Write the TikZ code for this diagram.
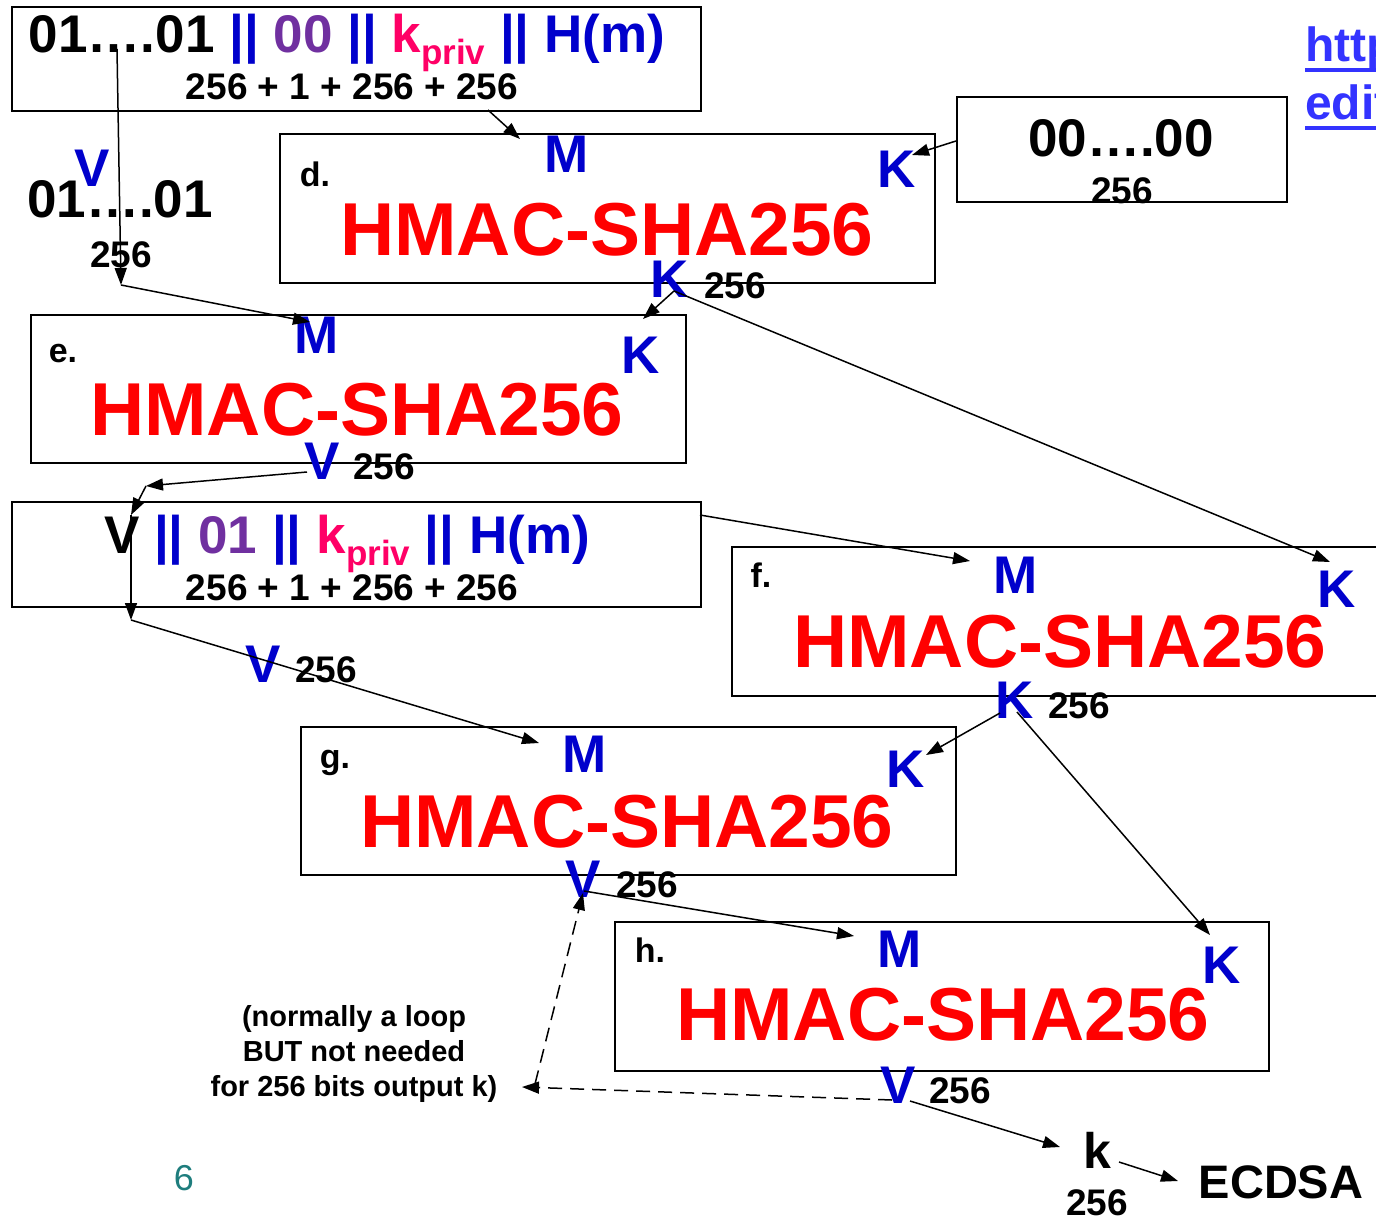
\documentclass[tikz,border=0pt]{standalone}
\usepackage{fontspec}
\setmainfont{Liberation Sans}
\usepackage{xcolor}
\usetikzlibrary{arrows.meta, positioning, calc}

\definecolor{hmacred}{RGB}{255,0,0}
\definecolor{portblue}{RGB}{0,0,204}
\definecolor{bitpurple}{RGB}{112,48,160}
\definecolor{privpink}{RGB}{255,0,102}
\definecolor{linkblue}{RGB}{51,51,255}
\definecolor{pageteal}{RGB}{30,125,125}

\newcommand{\bsz}[1]{\fontsize{#1}{#1}\selectfont\bfseries}
\newcommand{\kpriv}{\textcolor{privpink}{k\raisebox{-12pt}{\bsz{35}priv}}}
\newcommand{\bars}{\textcolor{portblue}{||}}

\begin{document}
\begin{tikzpicture}[x=1pt, y=-1pt,
    box/.style 2 args={draw, line width=1.8pt, anchor=north west, inner sep=0pt, minimum width=#1, minimum height=#2},
    hmac/.style={anchor=base, inner sep=0pt, text=hmacred, font=\bsz{75}},
    port/.style={anchor=base, inner sep=0pt, text=portblue, font=\bsz{53}},
    seq/.style={anchor=base, inner sep=0pt, font=\bsz{53}},
    bits/.style={anchor=base, inner sep=0pt, font=\bsz{37}},
    tag/.style={anchor=base, inner sep=0pt, font=\bsz{34}},
    flow/.style={line width=1.5pt, -{Triangle[length=17pt, width=12pt]}},
    dashflow/.style={flow, dash pattern=on 14pt off 8pt},
]
    \useasboundingbox (0,0) rectangle (1376,1217);

    % Input string 01...01 || 00 || kpriv || H(m)
    \node[box={689pt}{104pt}] (inA) at (11,6) {};
    \node[seq] (inAtxt) at (347,53) {01….01 \bars{} \textcolor{bitpurple}{00} \bars{} \kpriv{} \bars{} \textcolor{portblue}{H(m)}};
    \node[bits] (inAbits) at (352,100) {256 + 1 + 256 + 256};

    % Key 00...00
    \node[box={330pt}{105pt}] (keyZ) at (956,96) {};
    \node[seq] (keyZtxt) at (1121,157) {00….00};
    \node[bits] (keyZbits) at (1122,204) {256};

    % Link (cut off at the edge)
    \node[anchor=base west, inner sep=0pt, text=linkblue, font=\bsz{48}] (url1) at (1305,62) {http};
    \node[anchor=base west, inner sep=0pt, text=linkblue, font=\bsz{48}] (url2) at (1305,120) {edit};
    \draw[linkblue, line width=3.5pt] (url1.base west) ++(0,8) -- ++(80,0);
    \draw[linkblue, line width=3.5pt] (url2.base west) ++(0,8) -- ++(80,0);

    % Initial V = 01...01
    \node[port] (seedV) at (92,187) {V};
    \node[seq] (seedtxt) at (120,218) {01….01};
    \node[bits] (seedbits) at (121,267) {256};

    % d. HMAC with K = 00...00
    \node[box={655pt}{149pt}] (hd) at (279,133) {};
    \node[tag] (hdlbl) at (315,187) {d.};
    \node[port] (hdM) at (567,173) {M};
    \node[port] (hdK) at (897,188) {K};
    \node[hmac] (hdname) at (607,255) {HMAC-SHA256};
    \node[port] (hdout) at (670,297) {K};
    \node[bits] (hdbits) at (735,298) {256};

    % e. HMAC on V
    \node[box={655pt}{148pt}] (he) at (30,314) {};
    \node[tag] (helbl) at (63,362) {e.};
    \node[port] (heM) at (317,353) {M};
    \node[port] (heK) at (641,373) {K};
    \node[hmac] (hename) at (357,435) {HMAC-SHA256};
    \node[port] (heout) at (322,479) {V};
    \node[bits] (hebits) at (384,479) {256};

    % Second string V || 01 || kpriv || H(m)
    \node[box={689pt}{105pt}] (inB) at (11,501) {};
    \node[seq] (inBtxt) at (347,553) {V \bars{} \textcolor{bitpurple}{01} \bars{} \kpriv{} \bars{} \textcolor{portblue}{H(m)}};
    \node[bits] (inBbits) at (352,600) {256 + 1 + 256 + 256};
    \node[port] (inBV) at (263,682) {V};
    \node[bits] (inBVbits) at (326,682) {256};

    % f. HMAC with new K
    \node[box={700pt}{149pt}] (hf) at (731,546) {};
    \node[tag] (hflbl) at (761,587) {f.};
    \node[port] (hfM) at (1016,593) {M};
    \node[port] (hfK) at (1337,607) {K};
    \node[hmac] (hfname) at (1060,667) {HMAC-SHA256};
    \node[port] (hfout) at (1015,718) {K};
    \node[bits] (hfbits) at (1079,718) {256};

    % g. HMAC on V
    \node[box={655pt}{148pt}] (hg) at (300,726) {};
    \node[tag] (hglbl) at (335,768) {g.};
    \node[port] (hgM) at (585,772) {M};
    \node[port] (hgK) at (906,787) {K};
    \node[hmac] (hgname) at (627,847) {HMAC-SHA256};
    \node[port] (hgout) at (583,897) {V};
    \node[bits] (hgbits) at (647,897) {256};

    % h. HMAC on V
    \node[box={654pt}{149pt}] (hh) at (614,921) {};
    \node[tag] (hhlbl) at (650,962) {h.};
    \node[port] (hhM) at (900,967) {M};
    \node[port] (hhK) at (1222,983) {K};
    \node[hmac] (hhname) at (943,1040) {HMAC-SHA256};
    \node[port] (hhout) at (898,1103) {V};
    \node[bits] (hhbits) at (960,1103) {256};

    % Output k
    \node[anchor=base, inner sep=0pt, font=\bsz{50}] (kout) at (1097,1168) {k};
    \node[bits] (kbits) at (1097,1215) {256};
    \node[anchor=base, inner sep=0pt, font=\bsz{47}] (ecdsa) at (1281,1198) {ECDSA};

    % Note on the loop
    \node[inner sep=0pt, align=center, font=\fontsize{29}{35}\selectfont\bfseries] (note) at (354,1054) {(normally a loop\\BUT not needed\\for 256 bits output k)};
    \node[anchor=base, inner sep=0pt, text=pageteal, font=\fontsize{36}{36}\selectfont] (pagenum) at (184,1190) {6};

    % Connector points
    \coordinate (seedtap) at (117,49);
    \coordinate (seedturn) at (121,285);
    \coordinate (heMin) at (310,322);
    \coordinate (inAtap) at (488,110);
    \coordinate (hdMin) at (520,139);
    \coordinate (keyZtap) at (956,141);
    \coordinate (hdKin) at (912,155);
    \coordinate (hdtap) at (674,291);
    \coordinate (heKin) at (643,319);
    \coordinate (hfKin) at (1330,562);
    \coordinate (hetap) at (307,472);
    \coordinate (Vturn) at (146,486);
    \coordinate (inBVin) at (131,515);
    \coordinate (inBVtap) at (131,515);
    \coordinate (Vdown) at (131,620);
    \coordinate (hgMin) at (539,743);
    \coordinate (inBtap) at (700,515);
    \coordinate (hfMin) at (970,561);
    \coordinate (hftapL) at (1000,713);
    \coordinate (hftapR) at (1017,712);
    \coordinate (hgKin) at (926,755);
    \coordinate (hhKin) at (1210,935);
    \coordinate (hgtap) at (584,891);
    \coordinate (hhMin) at (854,936);
    \coordinate (hhtapL) at (892,1100);
    \coordinate (hhtapR) at (910,1101);
    \coordinate (loopturn) at (522,1087);
    \coordinate (loopup) at (535,1084);
    \coordinate (hgVin) at (583,893);
    \coordinate (kin) at (1060,1147);
    \coordinate (ktap) at (1119,1162);
    \coordinate (ecdsain) at (1178,1181);

    % Connectors
    \draw[flow] (seedtap) -- (seedturn);
    \draw[flow] (seedturn) -- (heMin);
    \draw[flow] (inAtap) -- (hdMin);
    \draw[flow] (keyZtap) -- (hdKin);
    \draw[flow] (hdtap) -- (heKin);
    \draw[flow] (hdtap) -- (hfKin);
    \draw[flow] (hetap) -- (Vturn);
    \draw[flow] (Vturn) -- (inBVin);
    \draw[flow] (inBVtap) -- (Vdown);
    \draw[flow] (Vdown) -- (hgMin);
    \draw[flow] (inBtap) -- (hfMin);
    \draw[flow] (hftapL) -- (hgKin);
    \draw[flow] (hftapR) -- (hhKin);
    \draw[flow] (hgtap) -- (hhMin);
    \draw[dashflow] (hhtapL) -- (loopturn);
    \draw[dashflow] (loopup) -- (hgVin);
    \draw[flow] (hhtapR) -- (kin);
    \draw[flow] (ktap) -- (ecdsain);
\end{tikzpicture}
\end{document}
